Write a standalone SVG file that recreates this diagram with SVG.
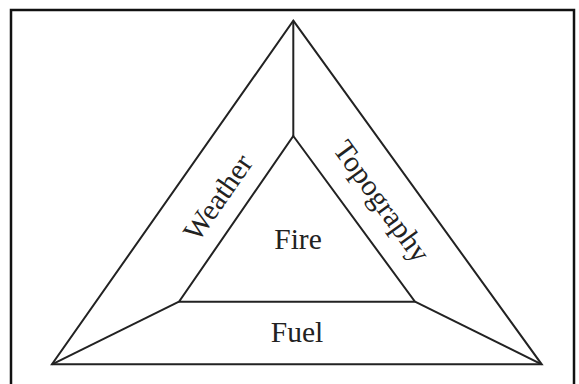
<svg xmlns="http://www.w3.org/2000/svg" width="579" height="384" viewBox="0 0 579 384">
<style>
.ln{fill:none;stroke:#222;stroke-width:2;stroke-linejoin:miter}
.lbl{font-family:"Liberation Serif","Times New Roman",serif;font-size:29.5px;fill:#222;text-anchor:middle}
</style>
<rect x="0" y="0" width="579" height="384" fill="#fff"/>
<rect x="11" y="10" width="563" height="390" fill="none" stroke="#111" stroke-width="2.5"/>
<g id="connectors">
<line class="ln" x1="293.3" y1="20.7" x2="293.3" y2="136"/>
<line class="ln" x1="52" y1="364.3" x2="179" y2="301.7"/>
<line class="ln" x1="541.7" y1="364.3" x2="415" y2="301.7"/>
</g>
<g id="outer">
<polygon class="ln" points="293.3,20.7 541.7,364.3 52,364.3"/>
</g>
<g id="fire">
<polygon class="ln" points="293.3,136 415,301.7 179,301.7"/>
<text class="lbl" x="298" y="249">Fire</text>
</g>
<g id="fuel">
<text class="lbl" x="297" y="342">Fuel</text>
</g>
<g id="weather">
<text class="lbl" transform="translate(226,203) rotate(-55)">Weather</text>
</g>
<g id="topography">
<text class="lbl" transform="translate(374,207) rotate(54)">Topography</text>
</g>
</svg>
